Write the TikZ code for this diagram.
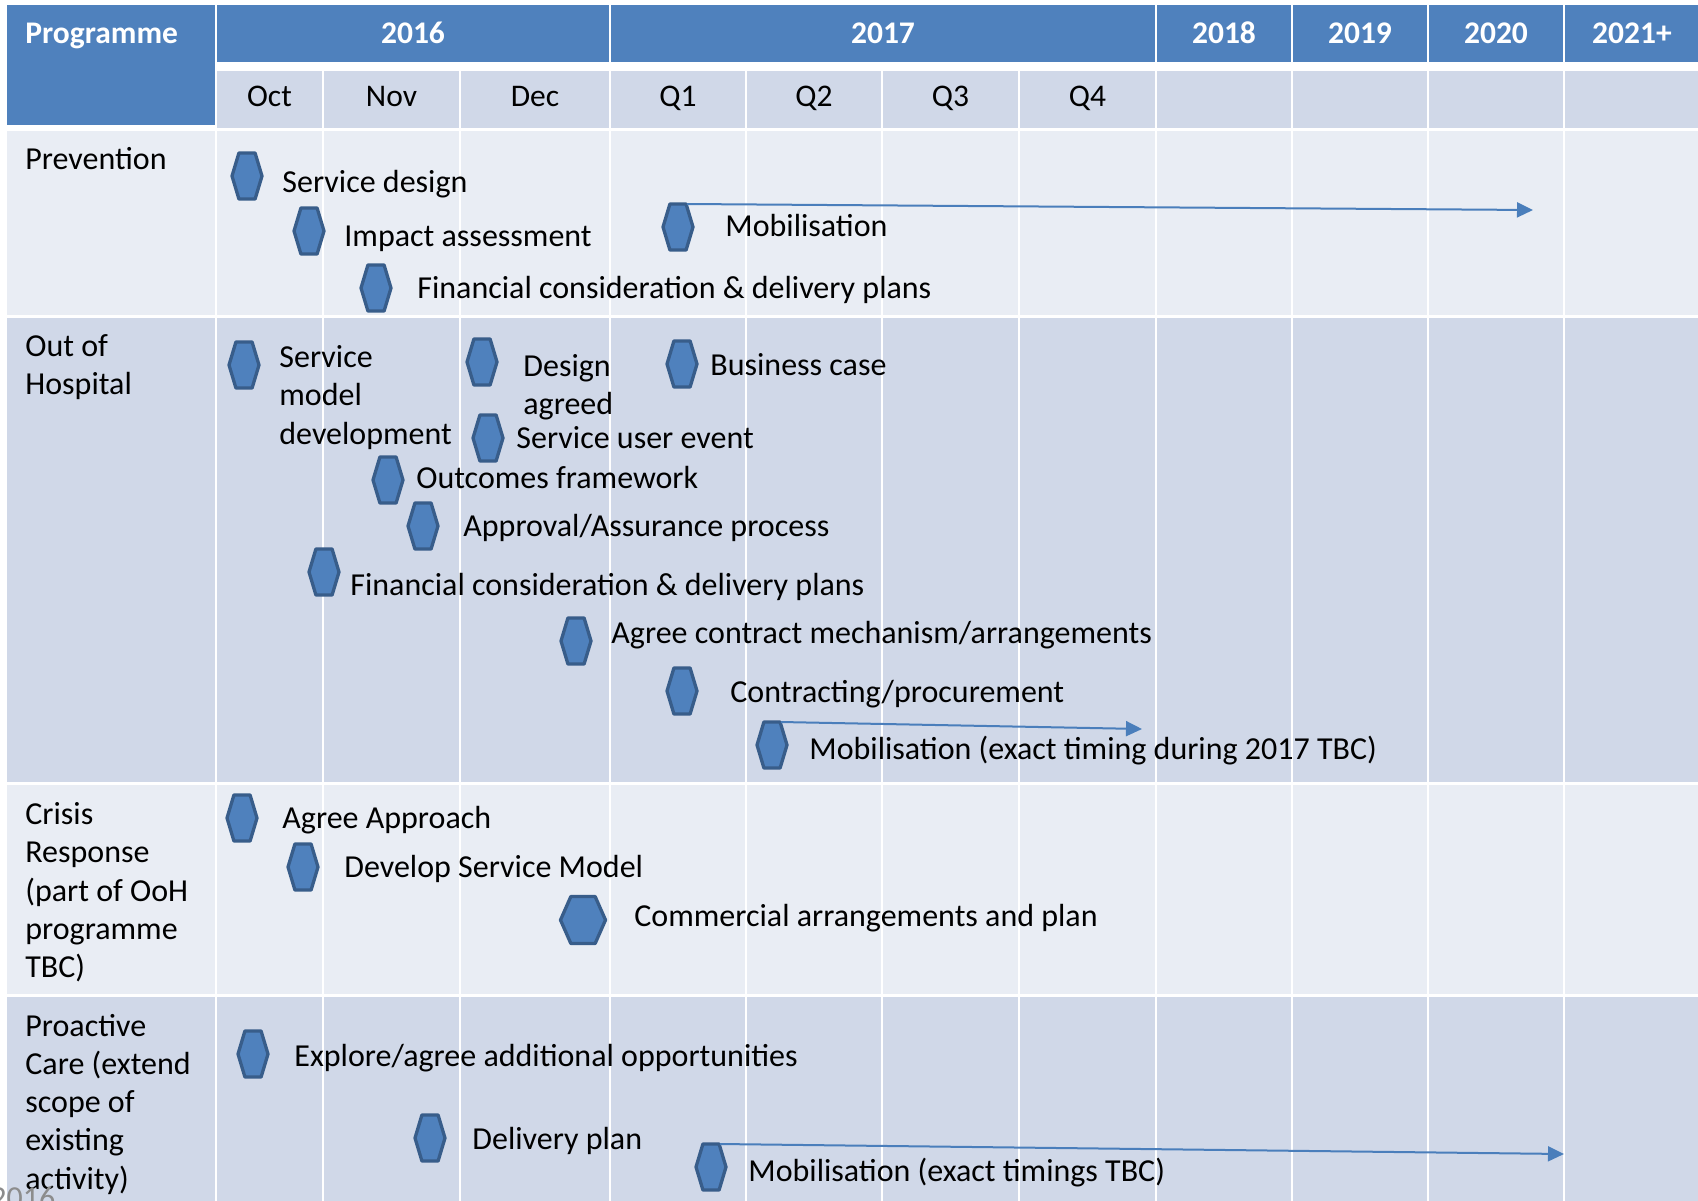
\documentclass[tikz,border=0pt]{standalone}
\usepackage{fontspec}
\setmainfont{Carlito}
\usetikzlibrary{arrows.meta,calc,positioning}

\definecolor{head-blue}{HTML}{4F81BD}
\definecolor{hex-edge}{HTML}{385D8A}
\definecolor{row-light}{HTML}{E9EDF4}
\definecolor{row-dark}{HTML}{D0D8E8}
\definecolor{arrow-blue}{HTML}{4A7EBB}

\tikzset{
    head-text/.style = {text=white, inner sep=0pt, anchor=base, font=\bfseries\fontsize{15.75}{19}\selectfont},
    month-text/.style = {inner sep=0pt, anchor=base, font=\fontsize{15.75}{19}\selectfont},
    prog-label/.style = {anchor=base west, align=left, inner sep=0pt, font=\fontsize{16}{19.15}\selectfont},
    task/.style = {anchor=base west, align=left, inner sep=0pt, font=\fontsize{16}{19.15}\selectfont},
    mstone/.style = {minimum width=15pt, minimum height=23pt, inner sep=0pt, outer sep=0pt},
    mshape/.style = {fill=head-blue, draw=hex-edge, line width=1.65pt, line join=round},
    plan-arrow/.style = {draw=arrow-blue, line width=1pt, -{Triangle[length=8pt,width=7.5pt]}},
}

% milestone hexagon: [size], name, x, y
\newcommand{\milestone}[4][]{%
  \node[mstone,#1] (#2) at (#3,#4) {};
  \draw[mshape] (#2.west) -- ($(#2.north west)!.23!(#2.north east)$) -- ($(#2.north west)!.77!(#2.north east)$)
    -- (#2.east) -- ($(#2.south west)!.77!(#2.south east)$) -- ($(#2.south west)!.23!(#2.south east)$) -- cycle;
}

\begin{document}
\begin{tikzpicture}[x=0.5pt, y=-0.5pt]
\useasboundingbox (0,0) rectangle (1698,1200);
\clip (0,0) rectangle (1698,1200);
\fill[white] (0,0) rectangle (1698,1200);

% header rows
\fill[head-blue] (6.5,5) rectangle (214.75,125);
\node[head-text, anchor=base west] (prog) at (25,43.5) {Programme};
\foreach \a/\b/\yr [count=\i] in {216/610/2016, 610/1156/2017, 1156/1292/2018, 1292/1428/2019, 1428/1564/2020, 1564/1700/2021+}
{
  \fill[head-blue] (\a+1.25,5) rectangle (\b-1.25,62.3);
  \node[head-text] (year\i) at ({(\a+\b)/2},43.5) {\yr};
}
\foreach \a/\b in {216/323, 323/460, 460/610, 610/746, 746/882, 882/1019, 1019/1156, 1156/1292, 1292/1428, 1428/1564, 1564/1700}
  \fill[row-dark] (\a+1.25,70.7) rectangle (\b-1.25,127.7);
\foreach \a/\b/\mo [count=\i] in {216/323/Oct, 323/460/Nov, 460/610/Dec, 610/746/Q1, 746/882/Q2, 882/1019/Q3, 1019/1156/Q4}
  \node[month-text] (month\i) at ({(\a+\b)/2},106.5) {\mo};

% programme rows
\foreach \ta/\tb/\tone in {130.7/315/row-light, 318/782/row-dark, 785/994/row-light, 997/1205/row-dark}
{
  \fill[\tone] (6.5,\ta) rectangle (214.75,\tb);
  \foreach \a/\b in {216/323, 323/460, 460/610, 610/746, 746/882, 882/1019, 1019/1156, 1156/1292, 1292/1428, 1428/1564, 1564/1700}
    \fill[\tone] (\a+1.25,\ta) rectangle (\b-1.25,\tb);
}

% multi-line labels sit on the baseline of their last line
\node[prog-label] (prevention) at (25,169) {Prevention};
\node[prog-label] (out-hospital) at (25,394.8) {Out of\\Hospital};
\node[prog-label] (crisis) at (25,977.7) {Crisis\\Response\\(part of OoH\\programme\\TBC)};
\node[prog-label] (proactive) at (25,1189.2) {Proactive\\Care (extend\\scope of\\existing\\activity)};

% Prevention
\milestone{prev-m1}{247}{176}
\milestone{prev-m2}{309}{231}
\milestone{prev-m3}{376}{288}
\milestone{prev-m4}{678}{227}
\node[task] (prev-t1) at (282,192.5) {Service design};
\node[task] (prev-t2) at (344,246) {Impact assessment};
\node[task] (prev-t3) at (417,298) {Financial consideration \& delivery plans};
\node[task] (prev-t4) at (725,236.5) {Mobilisation};
\coordinate (prev-end) at (1533,210);
\draw[plan-arrow] ([xshift=4.5pt]prev-m4.north) -- (prev-end);

% Out of Hospital
\milestone{ooh-m1}{244}{365}
\milestone{ooh-m2}{482}{362}
\milestone{ooh-m3}{682}{364}
\milestone{ooh-m4}{488}{438}
\milestone{ooh-m5}{388}{480}
\milestone{ooh-m6}{423}{526}
\milestone{ooh-m7}{324}{572}
\milestone{ooh-m8}{576}{641}
\milestone{ooh-m9}{682}{691}
\milestone{ooh-m10}{772}{745}
\node[task] (ooh-t1) at (279,444.1) {Service\\model\\development};
\node[task] (ooh-t2) at (523,414.3) {Design\\agreed};
\node[task] (ooh-t3) at (710,375) {Business case};
\node[task] (ooh-t4) at (516,448.5) {Service user event};
\node[task] (ooh-t5) at (416,488) {Outcomes framework};
\node[task] (ooh-t6) at (463,536) {Approval/Assurance process};
\node[task] (ooh-t7) at (350,595) {Financial consideration \& delivery plans};
\node[task] (ooh-t8) at (611,643) {Agree contract mechanism/arrangements};
\node[task] (ooh-t9) at (730,702) {Contracting/procurement};
\node[task] (ooh-t10) at (809,759) {Mobilisation (exact timing during 2017 TBC)};
\coordinate (ooh-end) at (1142,729);
\draw[plan-arrow] ([xshift=4.5pt]ooh-m10.north) -- (ooh-end);

% Crisis Response
\milestone{crisis-m1}{242}{818}
\milestone{crisis-m2}{303}{867}
\milestone[minimum width=22.5pt, minimum height=23.5pt]{crisis-m3}{583}{920}
\node[task] (crisis-t1) at (282,828) {Agree Approach};
\node[task] (crisis-t2) at (344,877) {Develop Service Model};
\node[task] (crisis-t3) at (634,926) {Commercial arrangements and plan};

% Proactive Care
\milestone{pro-m1}{253}{1054}
\milestone{pro-m2}{430}{1138}
\milestone{pro-m3}{711}{1167}
\node[task] (pro-t1) at (294,1066) {Explore/agree additional opportunities};
\node[task] (pro-t2) at (472,1149) {Delivery plan};
\node[task] (pro-t3) at (748,1181) {Mobilisation (exact timings TBC)};
\coordinate (pro-end) at (1564,1154);
\draw[plan-arrow] ([xshift=4.5pt]pro-m3.north) -- (pro-end);

\node[task, text=black!45] (footer-year) at (-10,1208) {2016};
\end{tikzpicture}
\end{document}
